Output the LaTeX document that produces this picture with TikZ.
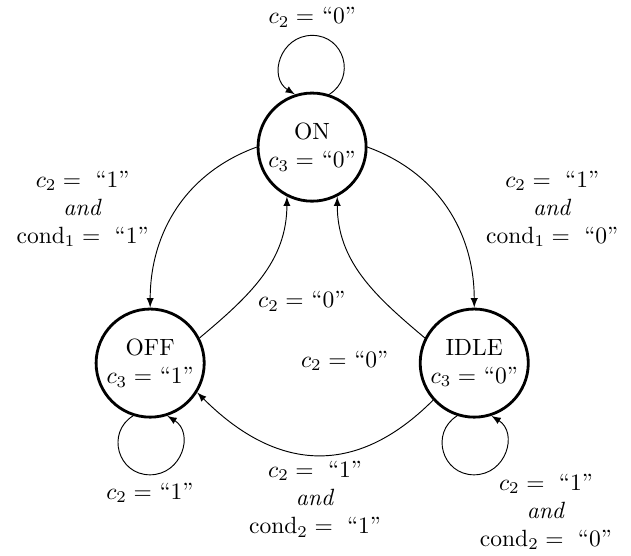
\documentclass[tikz,border=0pt]{standalone}
\usepackage{tikz}
\usetikzlibrary{arrows, positioning}
\tikzstyle{arrow} = [->,>=latex]

\begin{document}
\begin{tikzpicture}[
    node distance=3cm, on grid,
    state/.style={circle, draw=black, very thick, minimum size=46pt, inner sep=0pt, align=center},
    cond/.style={align=center}
]
\useasboundingbox (-132.8pt,-173.6pt) rectangle (135.7pt,62.6pt);

% Nodes
\node (on) [state] {ON\\ $c_3 =$ ``0''};
\node (off) [state, below left=91.9pt and 68.9pt of on] {OFF\\ $c_3 =$ ``1''};
\node (idle) [state, right=137.9pt of off] {IDLE\\ $c_3 =$ ``0''};

% Self loops
\draw [arrow] (on.72) to[out=32, in=0, looseness=1.34] ++(-7.2pt,25.1pt) node[above] {$c_2 =$ ``0''}
    to[out=180, in=148, looseness=1.34] (on.108);
\draw [arrow] (off.-108) to[out=212, in=180, looseness=1.34] ++(7.2pt,-25.1pt) node[below] {$c_2 =$ ``1''}
    to[out=0, in=-32, looseness=1.34] (off.-72);
\draw [arrow] (idle.-108) to[out=212, in=180, looseness=1.34] ++(7.2pt,-25.1pt) node[below right=-4pt and -1pt, cond] {$c_2 = {}$ ``1''\\ \textit{and}\\ $\mathrm{cond}_2 = {}$ ``0''}
    to[out=0, in=-32, looseness=1.34] (idle.-72);

% Edges
\draw [arrow] (on.180) to[out=200, in=90] node[pos=.5, left=8.5pt, cond] {$c_2 = {}$ ``1''\\ \textit{and}\\ $\mathrm{cond}_1 = {}$ ``1''} (off.90);
\draw [arrow] (on.0) to[out=-20, in=90] node[pos=.5, right=13pt, cond] {$c_2 = {}$ ``1''\\ \textit{and}\\ $\mathrm{cond}_1 = {}$ ``0''} (idle.90);
\draw [arrow] (off.27) to[out=40, in=270] node[pos=.3, right=4pt] {$c_2 =$ ``0''} (on.243);
\draw [arrow] (idle.153) to[out=140, in=270] node[pos=0, below left=2pt and 12pt] {$c_2 =$ ``0''} (on.297);
\draw [arrow] (idle.222) to[out=225, in=-45, looseness=1.2] node[below=-1pt, cond] {$c_2 = {}$ ``1''\\ \textit{and}\\ $\mathrm{cond}_2 = {}$ ``1''} (off.-32);

\end{tikzpicture}
\end{document}
